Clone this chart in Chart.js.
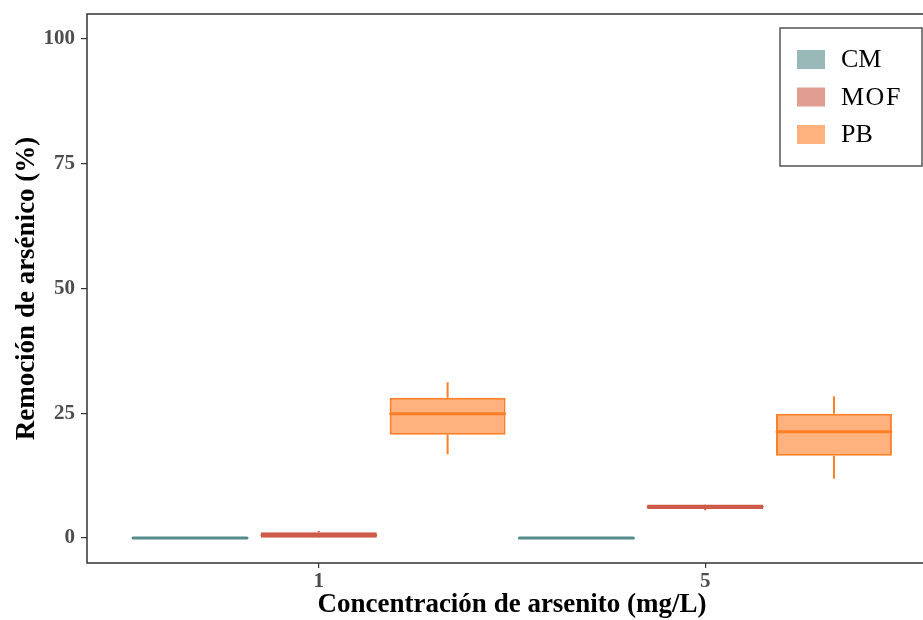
<!DOCTYPE html>
<html>
<head>
<meta charset="utf-8">
<script src="https://cdn.jsdelivr.net/npm/chart.js@4/dist/chart.umd.min.js"></script>
<style>
html,body{margin:0;padding:0;overflow:hidden;background:#fff;}
canvas{display:block;}
</style>
</head>
<body>
<canvas id="c" width="940" height="620"></canvas>
<script>
// Categories (x axis) and series
const categories = ['1', '5'];
const seriesNames = ['CM', 'MOF', 'PB'];
// Box statistics per category: [min, q1, median, q3, max]
const cmStats  = [[0, 0, 0, 0, 0], [0, 0, 0, 0, 0]];
const mofStats = [[0, 0.05, 0.6, 1.15, 1.4], [5.55, 5.8, 6.25, 6.7, 6.75]];
const pbStats  = [[16.8, 20.7, 24.9, 28.1, 31.2], [11.9, 16.5, 21.3, 24.9, 28.4]];
const yTicks = [0, 25, 50, 75, 100];

const strokeColors = ['#558a8b', '#cd5b4a', '#ff7f27'];
const fillColors = ['rgba(85,138,139,0.6)', 'rgba(205,91,74,0.6)', 'rgba(255,127,39,0.6)'];
const allStats = [cmStats, mofStats, pbStats];

const SERIF = '"Liberation Serif", "Times New Roman", serif';

const datasets = seriesNames.map((name, s) => ({
  label: name,
  stats: allStats[s],
  data: allStats[s].map((st, i) => ({ x: i + 1, y: [st[1], st[3]] })),
  backgroundColor: fillColors[s],
  borderColor: strokeColors[s],
  borderWidth: 2,
  borderSkipped: false,
  categoryPercentage: 1.0,
  barPercentage: 0.9
}));

const boxPlugin = {
  id: 'boxExtras',
  afterDatasetsDraw(chart) {
    const ctx = chart.ctx;
    const ys = chart.scales.y;
    chart.data.datasets.forEach((ds, d) => {
      const meta = chart.getDatasetMeta(d);
      meta.data.forEach((el, i) => {
        const st = ds.stats[i];
        const { x, width } = el.getProps(['x', 'width'], true);
        ctx.save();
        ctx.strokeStyle = ds.borderColor;
        ctx.lineCap = 'butt';
        // whiskers
        ctx.lineWidth = 2;
        ctx.beginPath();
        ctx.moveTo(x, ys.getPixelForValue(st[3]));
        ctx.lineTo(x, ys.getPixelForValue(st[4]));
        ctx.moveTo(x, ys.getPixelForValue(st[1]));
        ctx.lineTo(x, ys.getPixelForValue(st[0]));
        ctx.stroke();
        // median
        ctx.lineWidth = 3;
        ctx.lineCap = 'round';
        const my = ys.getPixelForValue(st[2]);
        ctx.beginPath();
        ctx.moveTo(x - width / 2 + 1, my);
        ctx.lineTo(x + width / 2 - 1, my);
        ctx.stroke();
        ctx.restore();
      });
    });
  }
};

const framePlugin = {
  id: 'frameLegend',
  afterDraw(chart) {
    const ctx = chart.ctx;
    const a = chart.chartArea;
    ctx.save();
    ctx.strokeStyle = '#333333';
    ctx.lineWidth = 1.5;
    ctx.strokeRect(a.left, a.top, a.right - a.left, a.bottom - a.top);
    // legend
    const lx = 780, ly = 28, lw = 142, lh = 138;
    ctx.fillStyle = '#ffffff';
    ctx.fillRect(lx, ly, lw, lh);
    ctx.strokeStyle = '#555555';
    ctx.lineWidth = 1.5;
    ctx.strokeRect(lx, ly, lw, lh);
    ctx.font = '26px ' + SERIF;
    ctx.textBaseline = 'middle';
    ctx.textAlign = 'left';
    chart.data.datasets.forEach((ds, i) => {
      const cy = ly + 31.5 + i * 37.5;
      ctx.fillStyle = ds.backgroundColor;
      ctx.fillRect(lx + 17, cy - 9.5, 28, 19);
      ctx.fillStyle = '#000000';
      if (ds.label === 'MOF') { ctx.letterSpacing = '1.5px'; } else { ctx.letterSpacing = '0px'; }
      ctx.fillText(ds.label, lx + 61, cy + 1);
    });
    ctx.restore();
  }
};

function noPad(s) { s.paddingTop = 0; s.paddingBottom = 0; s.paddingLeft = 0; s.paddingRight = 0; }

new Chart(document.getElementById('c'), {
  type: 'bar',
  data: { datasets },
  options: {
    responsive: false,
    animation: false,
    layout: { padding: { left: 0, top: 14, right: 3, bottom: 0 } },
    plugins: { legend: { display: false }, tooltip: { enabled: false } },
    scales: {
      x: {
        type: 'linear',
        min: 0.4,
        max: 2.6,
        offset: false,
        afterBuildTicks: (s) => { s.ticks = categories.map((c, i) => ({ value: i + 1 })); },
        afterFit: (s) => { s.height = 57; noPad(s); },
        ticks: {
          autoSkip: false,
          maxRotation: 0,
          padding: 1,
          color: '#4d4d4d',
          font: { family: SERIF, size: 21, weight: 'bold' },
          callback: (v) => categories[Math.round(v) - 1]
        },
        grid: { display: true, offset: false, drawOnChartArea: false, drawTicks: true, tickLength: 5, color: '#333333', lineWidth: 1.2 },
        border: { display: false },
        title: {
          display: true,
          text: 'Concentración de arsenito (mg/L)',
          color: '#000000',
          padding: { top: 0, bottom: 0 },
          font: { family: SERIF, size: 27, weight: 'bold', lineHeight: 1.1 }
        }
      },
      y: {
        min: -5,
        max: 105,
        afterBuildTicks: (s) => { s.ticks = yTicks.map(v => ({ value: v })); },
        afterFit: (s) => { s.width = 87; noPad(s); },
        ticks: {
          padding: 6,
          color: '#4d4d4d',
          font: { family: SERIF, size: 21, weight: 'bold' }
        },
        grid: { display: true, drawOnChartArea: false, drawTicks: true, tickLength: 6, color: '#333333', lineWidth: 1.2 },
        border: { display: false },
        title: {
          display: true,
          text: 'Remoción de arsénico (%)',
          color: '#000000',
          padding: { top: 11, bottom: 0 },
          font: { family: SERIF, size: 27, weight: 'bold' }
        }
      }
    }
  },
  plugins: [boxPlugin, framePlugin]
});
</script>
</body>
</html>
